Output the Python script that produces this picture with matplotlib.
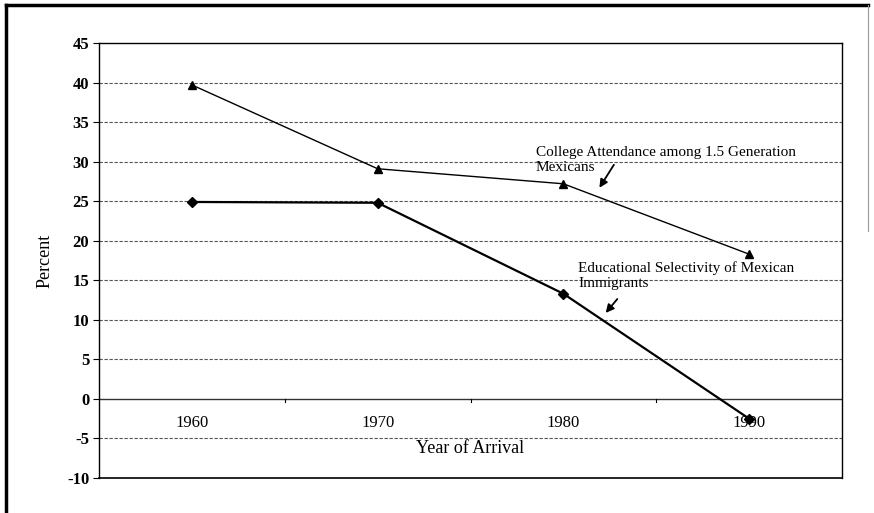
import matplotlib
matplotlib.use("Agg")
import matplotlib.pyplot as plt
from matplotlib.lines import Line2D

years = ["1960", "1970", "1980", "1990"]
college = [39.7, 29.1, 27.2, 18.3]
selectivity = [24.9, 24.8, 13.3, -2.5]
yticks = [45, 40, 35, 30, 25, 20, 15, 10, 5, 0, -5, -10]

plt.rcParams['font.family'] = ['Liberation Serif', 'DejaVu Serif']

fig = plt.figure(figsize=(8.74, 5.13), dpi=100)
ax = fig.add_axes([99/874, 1-478/513, (842-99)/874, (478-43)/513])

x = list(range(len(years)))
ax.set_xlim(-0.5, 3.5)
ax.set_ylim(-10, 45)

for yv in yticks:
    if yv not in (0, -10, 45):
        ax.axhline(yv, color='#555555', lw=0.8, ls=(0, (3, 1.5)), zorder=1)
ax.axhline(0, color='#333333', lw=1.0, zorder=1)

ax.plot(x, college, color='black', lw=1.0, marker='^', ms=6, zorder=3)
ax.plot(x, selectivity, color='black', lw=1.6, marker='D', ms=5, zorder=3)

ax.set_yticks(yticks)
ax.set_yticklabels([str(v) for v in yticks], fontsize=12, fontweight='bold')
ax.tick_params(axis='y', length=4, width=0.8, direction='out', pad=3)

# x axis crosses at 0
ax.spines['bottom'].set_visible(False)
ax.set_xticks([])
for b in [0.5, 1.5, 2.5]:
    ax.plot([b, b], [0, -0.45], color='black', lw=0.8, clip_on=False, zorder=2)
for xi, lab in zip(x, years):
    ax.text(xi, -2.0, lab, ha='center', va='top', fontsize=12)
ax.plot([-0.5, 3.5], [-10, -10], color='black', lw=1.2, clip_on=False, zorder=4)
for s in ['top', 'left', 'right']:
    ax.spines[s].set_linewidth(1.0)

ax.text(1.5, -6.3, "Year of Arrival", ha='center', va='center', fontsize=13)
ax.set_ylabel("Percent", fontsize=13, labelpad=10)

ax.text(1.85, 30.2, "College Attendance among 1.5 Generation\nMexicans",
        fontsize=11, ha='left', va='center', linespacing=1.25)
ax.annotate("", xy=(2.186, 26.4), xytext=(2.28, 29.9),
            arrowprops=dict(arrowstyle='-|>', color='black', lw=1.3, mutation_scale=12))
ax.text(2.08, 15.6, "Educational Selectivity of Mexican\nImmigrants",
        fontsize=11, ha='left', va='center', linespacing=1.25)
ax.annotate("", xy=(2.218, 10.6), xytext=(2.3, 12.9),
            arrowprops=dict(arrowstyle='-|>', color='black', lw=1.3, mutation_scale=12))

# outer frame
fig.add_artist(Line2D([6/874, 6/874], [0, 1-5/513], transform=fig.transFigure, color='black', lw=2.5))
fig.add_artist(Line2D([6/874, 868/874], [1-5/513, 1-5/513], transform=fig.transFigure, color='black', lw=2.5))
fig.add_artist(Line2D([868/874, 868/874], [1-5/513, 0.55], transform=fig.transFigure, color='#999999', lw=0.8))

fig.savefig("out.png", dpi=100)
